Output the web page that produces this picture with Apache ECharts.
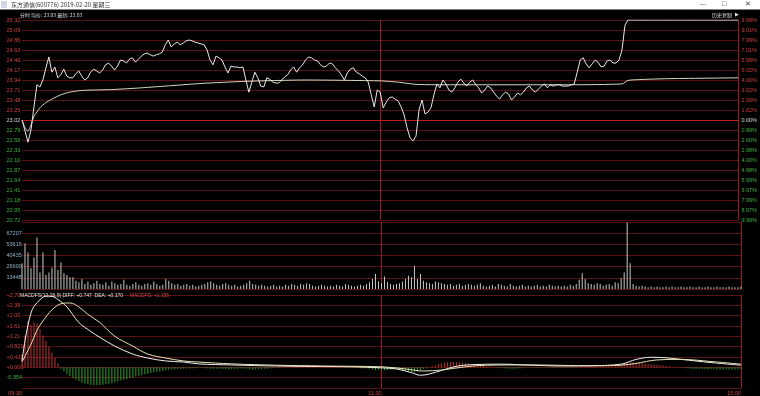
<!DOCTYPE html>
<html><head><meta charset="utf-8">
<script src="https://cdn.jsdelivr.net/npm/echarts@6/dist/echarts.min.js"></script>
<style>html,body{margin:0;padding:0;background:#000;overflow:hidden}#c{width:760px;height:396px}</style>
</head><body><div id="c"></div>
<script>
// ---------- tick labels ----------
const priceLabels = ["20.72","20.95","21.18","21.41","21.64","21.87","22.10","22.33","22.56","22.79","23.02","23.25","23.48","23.71","23.94","24.17","24.40","24.63","24.86","25.09","25.32"];
const pctLabels = ["9.99%","8.97%","7.99%","6.97%","5.99%","4.98%","4.00%","2.98%","2.00%","0.99%","0.00%","1.02%","2.00%","3.02%","4.00%","5.02%","5.99%","7.01%","7.99%","9.01%","9.99%"];
const volLabels = ["","13448","26900","40435","53616","67207",""];
const macdLabels = ["","-0.354","+0.000","+0.432","+0.820","+1.21","+1.61","+2.00","+2.38","+2.76"];
const timeLabels = {0:"09:30",120:"11:30",240:"15:00"};

// ---------- price per minute (0 = 09:30 ... 240 = 15:00) ----------
const price = [
23.02,22.77,22.51,22.79,23.32,23.83,23.78,23.94,24.22,24.47,
24.12,24.24,23.99,24.06,24.19,24.03,23.99,23.99,24.08,24.15,
24.03,23.94,23.99,24.12,24.19,24.15,24.10,24.17,24.29,24.33,
24.26,24.17,24.26,24.40,24.38,24.33,24.42,24.45,24.35,24.42,
24.49,24.54,24.56,24.52,24.49,24.52,24.54,24.58,24.75,24.86,
24.70,24.77,24.81,24.75,24.79,24.84,24.86,24.84,24.81,24.79,
24.77,24.75,24.63,24.40,24.29,24.49,24.45,24.40,24.24,24.10,
24.26,24.24,24.24,24.22,24.24,23.94,23.66,23.89,24.12,23.99,
23.80,23.78,23.99,23.96,23.89,23.87,23.87,23.94,24.01,24.06,
24.17,24.24,24.12,24.22,24.29,24.40,24.47,24.45,24.40,24.38,
24.29,24.24,24.26,24.33,24.31,24.22,24.15,24.06,23.94,24.10,
24.19,24.22,24.12,24.08,24.03,23.99,23.89,23.60,23.32,23.71,
23.66,
23.30,23.43,23.53,23.55,23.50,23.46,23.32,23.14,22.84,22.61,
22.54,22.65,23.25,23.48,23.16,23.20,23.30,23.60,23.85,23.76,
23.94,23.85,23.71,23.66,23.76,23.89,23.96,23.87,23.80,23.89,
23.94,23.83,23.76,23.64,23.71,23.80,23.76,23.66,23.57,23.50,
23.60,23.66,23.62,23.48,23.55,23.64,23.60,23.66,23.76,23.80,
23.71,23.66,23.73,23.80,23.85,23.76,23.83,23.80,23.83,23.83,
23.80,23.80,23.80,23.83,23.85,24.12,24.40,24.45,24.31,24.22,
24.31,24.40,24.35,24.24,24.26,24.38,24.40,24.33,24.33,24.40,
24.63,25.20,25.32,25.32,25.32,25.32,25.32,25.32,25.32,25.32,
25.32,25.32,25.32,25.32,25.32,25.32,25.32,25.32,25.32,25.32,
25.32,25.32,25.32,25.32,25.32,25.32,25.32,25.32,25.32,25.32,
25.32,25.32,25.32,25.32,25.32,25.32,25.32,25.32,25.32,25.32
];

// ---------- average price (minute, value) ----------
const avgMin = [0,1,2,3,4,6,8,10,13,16,20,30,40,50,60,75,95,120,126,132,140,180,201,203,207,216,240];
const avgVal = [23.02,22.85,22.76,22.90,23.10,23.30,23.42,23.50,23.60,23.66,23.70,23.72,23.76,23.81,23.86,23.91,23.94,23.92,23.89,23.84,23.83,23.83,23.85,23.93,23.95,23.97,23.99];

// ---------- volume per minute ----------
const volume = [
31000,55000,44000,25000,38000,62000,20000,44000,17000,20000,
26000,47000,23000,32000,19000,17000,14000,14000,10000,8000,
12000,6000,9000,5000,7000,10000,6000,5000,8000,4000,
9000,7000,5000,6000,11000,5000,4000,6000,8000,5000,
4000,6000,7000,5000,9000,6000,4000,5000,12000,10000,
7000,5000,6000,4000,5000,6000,4000,5000,3000,4000,
5000,6000,8000,9000,7000,5000,4000,6000,7000,5000,
4000,5000,3000,4000,5000,7000,10000,6000,5000,4000,
5000,4000,3000,4000,5000,3000,4000,3000,5000,4000,
6000,5000,4000,6000,5000,7000,6000,4000,3000,4000,
5000,4000,3000,4000,3000,5000,4000,3000,6000,5000,
4000,3000,4000,5000,4000,6000,8000,12000,18000,9000,
7000,15000,8000,6000,5000,6000,7000,9000,12000,16000,
14000,28000,12000,18000,10000,8000,7000,6000,9000,8000,
7000,6000,5000,6000,4000,5000,6000,4000,5000,6000,
5000,4000,5000,7000,4000,3000,4000,5000,3000,6000,
5000,4000,3000,6000,4000,3000,4000,5000,3000,4000,
3000,4000,5000,3000,4000,3000,5000,4000,3000,4000,
3000,4000,3000,5000,4000,6000,11000,19000,12000,7000,
6000,5000,7000,6000,4000,5000,6000,4000,8000,7000,
13000,20000,80000,31000,6000,4000,3000,4000,3000,2000,
3000,2000,3000,2000,2000,3000,2000,3000,2000,2000,
3000,2000,2000,3000,2000,2000,3000,2000,2000,3000,
2000,2000,3000,2000,2000,2000,3000,2000,2000,2000,
3000
];

// ---------- MACD ----------
const diffMin = [0,1,2,3,4,6,8,10,12,15,19,23,26,31,37,42,48,54,59,70,85,100,110,120,125,130,133,136,140,145,150,160,170,180,190,200,205,210,215,220,230,240];
const diffVal = [0.25,1.00,1.60,2.05,2.30,2.55,2.69,2.68,2.56,2.28,1.69,1.35,1.13,0.80,0.50,0.35,0.24,0.20,0.13,0.09,0.05,0.03,0.02,-0.02,-0.06,-0.20,-0.30,-0.25,-0.12,0.04,0.10,0.12,0.08,0.05,0.06,0.12,0.30,0.38,0.36,0.30,0.18,0.08];
const deaMin = [0,3,5,7,10,13,16,19,22,26,31,37,42,48,54,59,70,85,100,120,128,134,140,148,155,170,190,200,205,212,220,230,240];
const deaVal = [0.20,0.87,1.40,1.75,2.17,2.40,2.43,2.28,2.00,1.69,1.17,0.80,0.50,0.35,0.24,0.20,0.13,0.08,0.05,0.02,-0.06,-0.14,-0.10,0.02,0.08,0.09,0.06,0.08,0.15,0.28,0.30,0.22,0.12];
const macdHist = [
0.50,1.20,1.75,1.60,1.72,1.65,1.45,1.20,1.00,0.78,
0.55,0.35,0.15,-0.05,-0.15,-0.25,-0.33,-0.40,-0.47,-0.52,
-0.57,-0.61,-0.64,-0.66,-0.68,-0.68,-0.67,-0.66,-0.64,-0.62,
-0.59,-0.56,-0.53,-0.50,-0.47,-0.44,-0.41,-0.38,-0.35,-0.32,
-0.29,-0.26,-0.24,-0.21,-0.19,-0.17,-0.15,-0.13,-0.11,-0.09,
-0.08,-0.07,-0.06,-0.05,-0.05,-0.04,-0.04,-0.03,-0.03,-0.02,
-0.02,-0.03,-0.04,-0.05,-0.06,-0.05,-0.05,-0.06,-0.07,-0.08,
-0.07,-0.06,-0.05,-0.04,-0.04,-0.05,-0.08,-0.09,-0.07,-0.06,
-0.06,-0.05,-0.04,-0.03,-0.03,-0.02,-0.02,-0.01,0.01,0.02,
0.04,0.06,0.07,0.08,0.09,0.10,0.10,0.09,0.08,0.07,
0.06,0.05,0.04,0.04,0.03,0.02,0.01,0.00,-0.02,-0.02,
-0.01,-0.01,-0.02,-0.03,-0.03,-0.04,-0.05,-0.08,-0.10,-0.09,
-0.09,-0.11,-0.10,-0.09,-0.08,-0.08,-0.09,-0.10,-0.13,-0.16,
-0.18,-0.19,-0.17,-0.10,-0.05,-0.03,0.00,0.03,0.08,0.13,
0.15,0.18,0.19,0.20,0.20,0.19,0.18,0.17,0.15,0.14,
0.12,0.11,0.09,0.07,0.05,0.04,0.03,0.02,0.00,-0.02,
-0.03,-0.03,-0.04,-0.05,-0.05,-0.04,-0.03,-0.03,-0.02,-0.01,
-0.01,-0.02,-0.02,-0.02,-0.01,-0.01,-0.01,-0.02,-0.02,-0.02,
-0.02,-0.02,-0.02,-0.02,-0.02,-0.02,0.02,0.06,0.08,0.08,
0.08,0.09,0.10,0.09,0.08,0.08,0.09,0.09,0.08,0.08,
0.09,0.12,0.16,0.18,0.18,0.17,0.16,0.15,0.14,0.13,
0.12,0.11,0.10,0.08,0.07,0.05,0.04,0.02,0.01,0.00,
-0.01,-0.02,-0.03,-0.04,-0.05,-0.05,-0.06,-0.06,-0.06,-0.07,
-0.07,-0.07,-0.07,-0.08,-0.08,-0.08,-0.08,-0.08,-0.08,-0.08,
-0.08
];
const prevClose = 23.02;

// ---------- style ----------
const RED = '#d04040', GREEN = '#3cb43c', GRID = '#5a1414', FONT = 'Liberation Sans';
const zip = (a, b) => a.map((v, i) => [v, b[i]]);

const chart = echarts.init(document.getElementById('c'), null, {renderer: 'canvas'});
const baseX = (gi, showLabel) => ({
  type: 'value', gridIndex: gi, min: 0, max: 240, interval: 120,
  axisLine: {show: false}, axisTick: {show: false},
  splitLine: {show: true, lineStyle: {color: ['rgba(0,0,0,0)', '#a01c1c', '#a01c1c'], width: 1}},
  axisLabel: showLabel ? {
    show: true, fontSize: 5.5, fontFamily: FONT, color: RED, align: 'right', margin: 2,
    showMinLabel: true, showMaxLabel: true, verticalAlign: 'top',
    formatter: v => timeLabels[Math.round(v)] || ''
  } : {show: false}
});

chart.setOption({
  backgroundColor: '#000',
  animation: false,
  grid: [
    {left: 22, right: 19, top: 20, height: 200},
    {left: 22, right: 19, top: 222, height: 67},
    {left: 22, right: 19, top: 295, height: 94.5}
  ],
  xAxis: [baseX(0, false), baseX(1, false), baseX(2, true)],
  yAxis: [
    {type: 'value', gridIndex: 0, position: 'left', min: 20.72, max: 25.32, interval: 0.23,
     axisLine: {show: false}, axisTick: {show: false},
     splitLine: {show: true, lineStyle: {color: GRID}},
     axisLabel: {fontSize: 5.5, fontFamily: FONT, align: 'left', margin: 15.5, showMinLabel: true, showMaxLabel: true,
       formatter: v => priceLabels[Math.round((v - 20.72) / 0.23)] || '',
       color: v => (Number(v) > prevClose + 0.005 ? RED : (Number(v) < prevClose - 0.005 ? GREEN : '#d8d8d8'))}},
    {type: 'value', gridIndex: 0, position: 'right', min: 20.72, max: 25.32, interval: 0.23,
     axisLine: {show: false}, axisTick: {show: false}, splitLine: {show: false},
     axisLabel: {fontSize: 5.5, fontFamily: FONT, align: 'left', margin: 3, showMinLabel: true, showMaxLabel: true,
       formatter: v => pctLabels[Math.round((v - 20.72) / 0.23)] || '',
       color: v => (Number(v) > prevClose + 0.005 ? RED : (Number(v) < prevClose - 0.005 ? GREEN : '#d8d8d8'))}},
    {type: 'value', gridIndex: 1, position: 'left', min: 0, max: 80646, interval: 13441,
     axisLine: {show: false}, axisTick: {show: false},
     splitLine: {show: true, lineStyle: {color: GRID}},
     axisLabel: {fontSize: 5.5, fontFamily: FONT, align: 'left', margin: 15.5, color: '#8fb4c8',
       formatter: v => volLabels[Math.round(v / 13441)] || ''}},
    {type: 'value', gridIndex: 2, position: 'left', min: -0.78, max: 2.73, interval: 0.39,
     axisLine: {show: false}, axisTick: {show: false},
     splitLine: {show: true, lineStyle: {color: GRID}},
     axisLabel: {fontSize: 5.5, fontFamily: FONT, align: 'left', margin: 15.5, showMaxLabel: true,
       formatter: v => macdLabels[Math.round((v + 0.78) / 0.39)] || '',
       color: v => (Number(v) < -0.01 ? GREEN : RED)}}
  ],
  series: [
    {name: 'price', type: 'line', xAxisIndex: 0, yAxisIndex: 0, symbol: 'none',
     data: price.map((v, i) => [i, v]), lineStyle: {color: '#e8e8e8', width: 1}, z: 5,
     markLine: {silent: true, symbol: 'none', label: {show: false},
       lineStyle: {color: '#c01c1c', width: 1.2, type: 'solid'}, data: [{yAxis: prevClose}]}},
    {name: 'avg', type: 'line', xAxisIndex: 0, yAxisIndex: 0, symbol: 'none', smooth: 0.2,
     data: zip(avgMin, avgVal), lineStyle: {color: '#d8d8c0', width: 1}, z: 4},
    {name: 'vol', type: 'bar', xAxisIndex: 1, yAxisIndex: 2, barWidth: 1,
     data: volume.map((v, i) => [i, v]), itemStyle: {color: '#c8c8c8'}},
    {name: 'hist', type: 'bar', xAxisIndex: 2, yAxisIndex: 3, barWidth: 1,
     data: macdHist.map((v, i) => [i, v]),
     itemStyle: {color: p => (p.value[1] >= 0 ? '#c03434' : '#2f9f2f')}},
    {name: 'DIFF', type: 'line', xAxisIndex: 2, yAxisIndex: 3, symbol: 'none', smooth: 0.35,
     data: zip(diffMin, diffVal), lineStyle: {color: '#f0f0f0', width: 1}, z: 5},
    {name: 'DEA', type: 'line', xAxisIndex: 2, yAxisIndex: 3, symbol: 'none', smooth: 0.35,
     data: zip(deaMin, deaVal), lineStyle: {color: '#e8e2b0', width: 1}, z: 5}
  ],
  graphic: [
    {type: 'rect', left: 0, top: 0, shape: {width: 760, height: 9.5}, style: {fill: '#ffffff'}, z: 10},
    {type: 'rect', left: 1, top: 1, shape: {width: 6, height: 7}, style: {fill: '#d0d8e8'}, z: 11},
    {type: 'text', left: 11, top: 1.5, z: 11, style: {text: '东方通信(600776) 2019-02-20 星期三', fontSize: 6, fontFamily: 'Noto Sans CJK SC', fill: '#333'}},
    {type: 'text', left: 700, top: 1, z: 11, style: {text: '—', fontSize: 6, fill: '#444'}},
    {type: 'text', left: 722, top: 1, z: 11, style: {text: '□', fontSize: 7, fill: '#444'}},
    {type: 'text', left: 745, top: 1, z: 11, style: {text: '✕', fontSize: 7, fill: '#444'}},
    {type: 'text', left: 20, top: 12.5, z: 11, style: {text: '分时 均价: 23.03 最新: 23.03', fontSize: 5, fontFamily: 'Noto Sans CJK SC', fill: '#d8d8d8'}},
    {type: 'text', left: 712, top: 12.5, z: 11, style: {text: '历史复制', fontSize: 5, fontFamily: 'Noto Sans CJK SC', fill: '#e0e0e0'}},
    {type: 'text', left: 735, top: 12.5, z: 11, style: {text: '▶', fontSize: 5, fill: '#e0e0e0'}},
    {type: 'text', left: 20, top: 289.5, z: 11, style: {
      text: '{w|MACDFS(12,26,9) DIFF: +0.747  DEA: +0.170}  {r|MACDFS: +1.155}',
      rich: {w: {fontSize: 5, fontFamily: FONT, fill: '#e0e0e0', color: '#e0e0e0'}, r: {fontSize: 5, fontFamily: FONT, fill: RED, color: RED}}}}
  ]
});
</script>
</body></html>
